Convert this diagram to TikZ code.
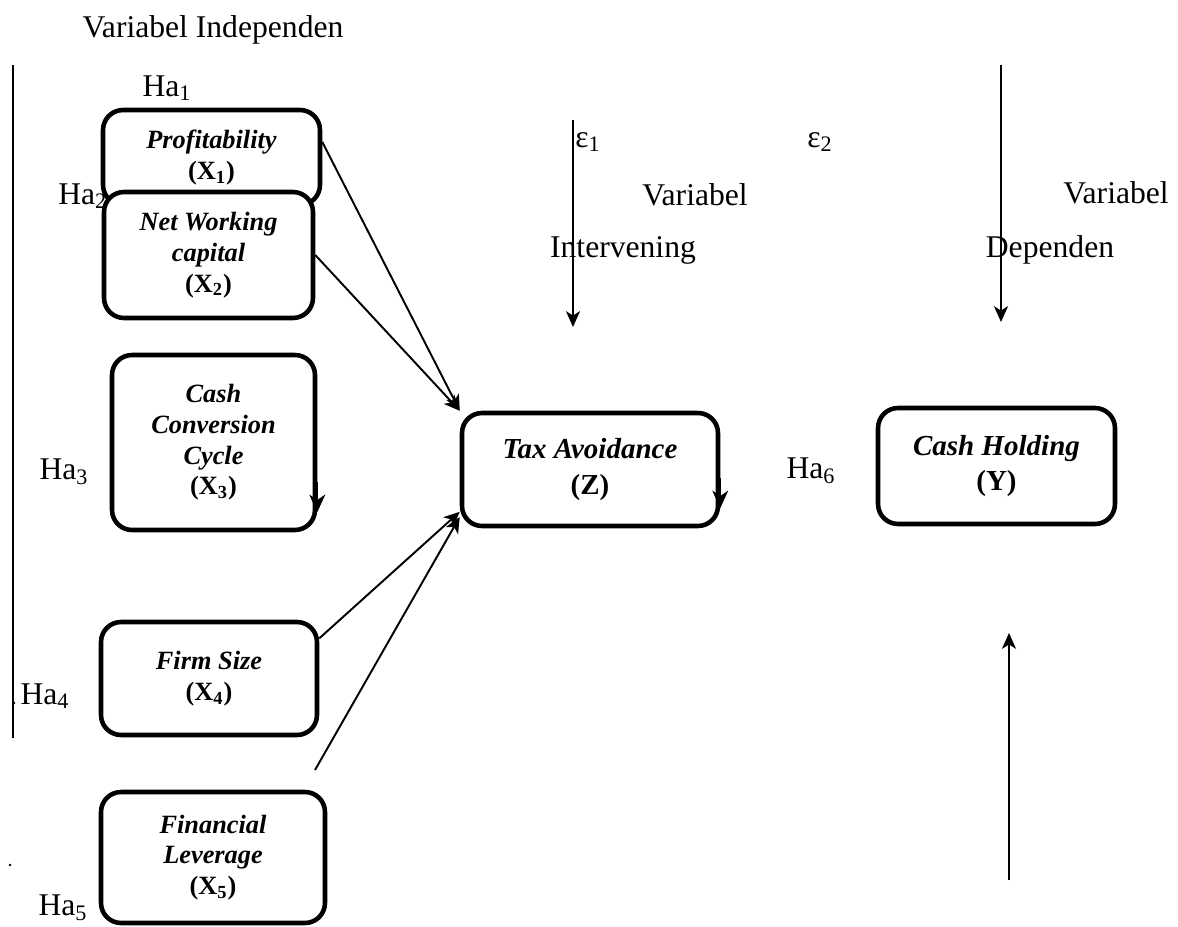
\documentclass[tikz,border=0pt]{standalone}
\usepackage{fontspec}
\setmainfont{Liberation Serif}
\usetikzlibrary{arrows.meta,calc}
\tikzset{
  varbox/.style={draw, line width=2.6pt, rounded corners=0.4cm, fill=white,
    align=center, inner sep=2pt, font=\fontsize{15}{17.5}\selectfont},
  bigbox/.style={varbox, font=\fontsize{16.5}{20}\selectfont},
  boxsize/.style 2 args={minimum width=#1, minimum height=#2},
  plain/.style={font=\fontsize{18}{21}\selectfont, inner sep=0pt},
  arr/.style={line width=1.1pt, -{Stealth[length=9pt,width=8pt,inset=2.5pt]}},
  borderarr/.style={line width=1.4pt, -{Stealth[length=10pt,width=9pt,inset=3pt]}},
}
\newcommand{\vname}[1]{\textbf{\textit{#1}}}
\newcommand{\vcode}[1]{\textbf{(#1)}}

\begin{document}
\begin{tikzpicture}[x=0.02cm, y=-0.02cm]
\useasboundingbox (0,0) rectangle (1178,927);

% independent side
\node[plain] (indep) at (213,30) {Variabel Independen};
\coordinate (linetop) at (13,65);
\coordinate (linebot) at (13,738);
\draw[line width=1pt] (linetop) -- (linebot);
\fill (14,703) circle (1.3);
\fill (10,865) circle (1.3);

\node[plain] (ha1) at (167,88) {Ha\textsubscript{1}};
\node[varbox, boxsize={4.34cm}{1.9cm}] (prof) at (211.5,157.5)
  {\vname{Profitability}\\\vcode{X\textsubscript{1}}};
\node[plain, anchor=west] (ha2) at (58,196) {Ha\textsubscript{2}};
\node[varbox, boxsize={4.18cm}{2.52cm}] (nwc) at (208.5,255)
  {\vname{Net Working}\\\vname{capital}\\\vcode{X\textsubscript{2}}};
\node[plain] (ha3) at (64,472) {Ha\textsubscript{3}};
\node[varbox, boxsize={4.06cm}{3.5cm}] (ccc) at (213.5,442.5)
  {\vname{Cash}\\\vname{Conversion}\\\vname{Cycle}\\\vcode{X\textsubscript{3}}};
\node[plain] (ha4) at (45,696) {Ha\textsubscript{4}};
\node[varbox, boxsize={4.32cm}{2.26cm}] (firm) at (209,678.5)
  {\vname{Firm Size}\\\vcode{X\textsubscript{4}}};
\node[plain] (ha5) at (63,908) {Ha\textsubscript{5}};
\node[varbox, boxsize={4.48cm}{2.62cm}] (lev) at (213,857.5)
  {\vname{Financial}\\\vname{Leverage}\\\vcode{X\textsubscript{5}}};

% intervening and dependent side
\node[plain] (eps1) at (588,142) {ε\textsubscript{1}};
\node[plain] (eps2) at (820,142) {ε\textsubscript{2}};
\node[plain] (intvar) at (695,195) {Variabel};
\node[plain] (intname) at (623,250) {Intervening};
\node[plain] (depvar) at (1116,193) {Variabel};
\node[plain] (depname) at (1050,250) {Dependen};
\node[bigbox, boxsize={5.12cm}{2.26cm}] (tax) at (590,469.5)
  {\vname{Tax Avoidance}\\\vcode{Z}};
\node[plain] (ha6) at (811,471) {Ha\textsubscript{6}};
\node[bigbox, boxsize={4.74cm}{2.32cm}] (hold) at (996.5,466)
  {\vname{Cash Holding}\\\vcode{Y}};

% arrows
\coordinate (levtail) at (315,770);
\draw[arr] (prof.8) -- (tax.north west);
\draw[arr] (nwc.east) -- (tax.north west);
\draw[arr] (firm.20) -- (tax.198);
\draw[arr] (levtail) -- (tax.200);

\coordinate (e1top) at (573,120);
\coordinate (e1end) at (573,327);
\draw[arr] (e1top) -- (e1end);
\coordinate (e2top) at (1001,65);
\coordinate (e2end) at (1001,322);
\draw[arr] (e2top) -- (e2end);
\coordinate (uptail) at (1009,880);
\coordinate (uphead) at (1009,633);
\draw[arr] (uptail) -- (uphead);

% tips on the box borders
\draw[borderarr] ($(ccc.south east)+(0,-50)$) -- ($(ccc.south east)+(0,-20)$);
\draw[borderarr] ($(tax.south east)+(0,-50)$) -- ($(tax.south east)+(0,-20)$);
\end{tikzpicture}
\end{document}
